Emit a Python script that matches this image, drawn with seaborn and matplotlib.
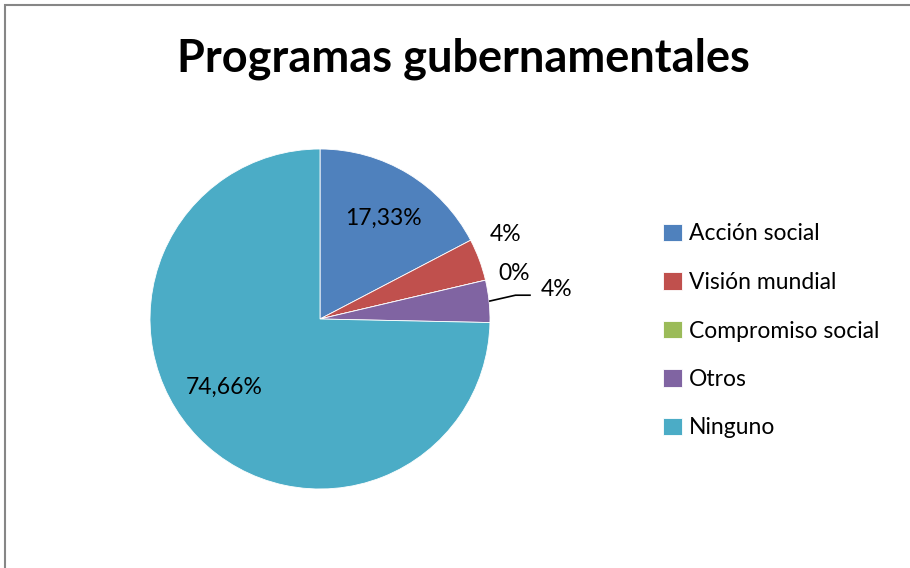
import numpy as np
import seaborn as sns
import matplotlib.pyplot as plt
from matplotlib.patches import Rectangle

# data
categorias = ["Acción social", "Visión mundial", "Compromiso social", "Otros", "Ninguno"]
valores = [17.33, 4, 0, 4, 74.66]
etiquetas = ["17,33%", "4%", "0%", "4%", "74,66%"]
colores = ["#4F81BD", "#C0504D", "#9BBB59", "#8064A2", "#4BACC6"]

sns.set_theme(style="white")
plt.rcParams["font.family"] = ["Lato", "DejaVu Sans"]
plt.rcParams["text.color"] = "black"

fig = plt.figure(figsize=(9.1, 5.68), dpi=100)
W, H = 910, 568
cx, cy, r = 320, 319, 170
ax = fig.add_axes([(cx - r) / W, (H - cy - r) / H, 2 * r / W, 2 * r / H])

wedges, _ = ax.pie(valores, colors=sns.color_palette(colores), startangle=90,
                   counterclock=False, radius=1,
                   wedgeprops=dict(edgecolor="white", linewidth=0.6))
ax.set_xlim(-1, 1)
ax.set_ylim(-1, 1)
ax.set_aspect("equal")
ax.axis("off")

# label placement: (angle offset from slice middle, distance from centre)
pos = [(-1, 0.70), (4, 1.20), (0, 1.17), (1, 1.40), (-9, 0.69)]
for w, txt, (da, dist) in zip(wedges, etiquetas, pos):
    ang = np.deg2rad((w.theta1 + w.theta2) / 2 + da)
    x, y = dist * np.cos(ang), dist * np.sin(ang)
    ax.text(x, y, txt, ha="center", va="center", fontsize=16.5, color="black",
            clip_on=False)

# leader line for the "Otros" label
w = wedges[3]
a = np.deg2rad((w.theta1 + w.theta2) / 2)
ax.plot([np.cos(a), 1.15, 1.24], [np.sin(a), 0.14, 0.14], color="black",
        lw=1.2, clip_on=False, solid_capstyle="butt")

fig.text(463 / W, 1 - 59 / H, "Programas gubernamentales", ha="center", va="center",
         fontsize=32.5, fontweight="bold", color="black")

ax.legend(wedges, categorias, loc="center left",
          bbox_to_anchor=(652 / W, (H - 331) / H), bbox_transform=fig.transFigure,
          frameon=False, fontsize=16.5, handlelength=0.8, handleheight=0.8,
          handletextpad=0.3, labelspacing=1.2, borderpad=0)

# chart area border (cropped at right and bottom)
fig.patches.append(Rectangle((5 / W, -0.1), 1.2, 1.1 - 5 / H,
                             transform=fig.transFigure, fill=False,
                             edgecolor="#868686", lw=1.5))

fig.savefig("out.png", dpi=100, facecolor="white")
